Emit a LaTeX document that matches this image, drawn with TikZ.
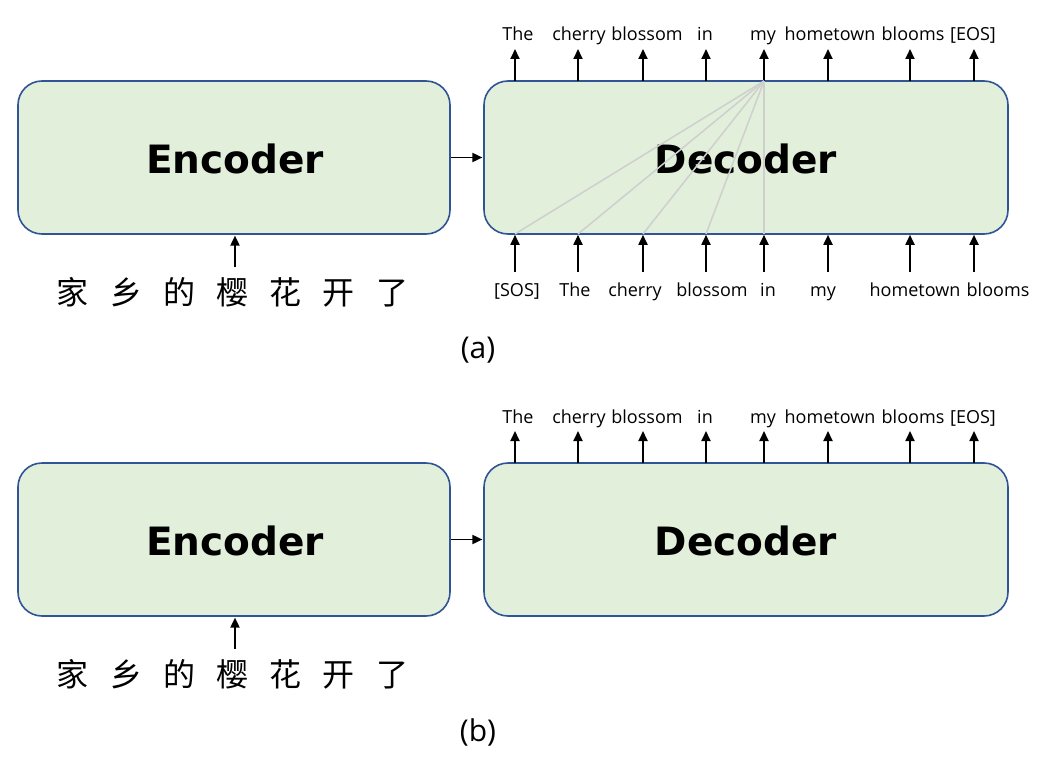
\documentclass[tikz,border=0pt]{standalone}
\usepackage{fontspec}
\setmainfont{Open Sans}
\newfontfamily\blockfont{DejaVu Sans}
\newfontfamily\cjk{Noto Sans CJK SC}
\usetikzlibrary{arrows.meta}
\definecolor{boxfill}{HTML}{E2EFDA}
\definecolor{boxline}{HTML}{2F5597}
\definecolor{attn}{HTML}{CFCFCF}
\begin{document}
\begin{tikzpicture}[x=1pt,y=-1pt,
  block/.style={draw=boxline, fill=boxfill, line width=1.6pt, rounded corners=24pt,
    minimum height=153pt, inner sep=0pt},
  blocktext/.style={font=\blockfont\bfseries\fontsize{39}{39}\selectfont, inner sep=0pt},
  tok/.style={font=\fontsize{18}{20}\selectfont, inner sep=0pt, anchor=base},
  zh/.style={font=\cjk\fontsize{32}{32}\selectfont, inner sep=0pt},
  captext/.style={font=\fontsize{30}{30}\selectfont, inner sep=0pt},
  arr/.style={-{Triangle[length=10pt,width=9pt]}, line width=1.8pt, black, shorten >=0.8pt},
  attnline/.style={draw=attn, line width=1.5pt}
]
\useasboundingbox (0,0) rectangle (1041,757);

\foreach \p/\dy in {a/0, b/382} {
  % blocks
  \node[block, minimum width=432pt] (enc\p) at (234,157.5+\dy) {};
  \node[block, minimum width=524pt] (dec\p) at (746,157.5+\dy) {};
  \node[blocktext] (enct\p) at (235,159+\dy) {Encoder};
  \node[blocktext] (dect\p) at (746,159+\dy) {Decoder};
  \draw[arr] (enc\p.east) -- (dec\p.west);

  % output tokens
  \foreach \i/\x/\lx/\w in {1/515/518/The, 2/578/579/cherry, 3/643/647/blossom, 4/706/705/in,
                         5/764/763/my, 6/828/830/hometown, 7/910/913/blooms, 8/974/973/[EOS]} {
    \node[tok] (out\p\i) at (\lx,41+\dy) {\w};
    \coordinate (ot\p\i) at (\x,81+\dy);
    \coordinate (oh\p\i) at (\x,49+\dy);
    \draw[arr, shorten >=0pt] (ot\p\i) -- (oh\p\i);
  }

  % source sentence
  \node[zh] (src\p) at (232.5,292+\dy)
    {家\hspace{21.2pt}乡\hspace{21.2pt}的\hspace{21.2pt}樱\hspace{21.2pt}花\hspace{21.2pt}开\hspace{21.2pt}了};
  \coordinate (st\p) at (235,267+\dy);
  \draw[arr] (st\p) -- (enc\p.south -| st\p);

  % caption
  \node[captext] (cap\p) at (478,350+\dy) {(\p)};
}

% decoder inputs in (a)
\foreach \i/\x/\lx/\w in {1/515/517/[SOS], 2/578/575/The, 3/643/635/cherry, 4/706/712/blossom,
                          5/764/768/in, 6/828/823/my, 7/910/915/hometown, 8/974/998/blooms} {
  \node[tok] (in\i) at (\lx,296) {\w};
  \coordinate (it\i) at (\x,272);
  \coordinate (ih\i) at (\x,234);
  \draw[arr] (it\i) -- (ih\i);
}

% attention lines
\coordinate (q) at (764,81);
\foreach \i in {1,...,5} {
  \draw[attnline] (q) -- (ih\i);
}
\end{tikzpicture}
\end{document}
